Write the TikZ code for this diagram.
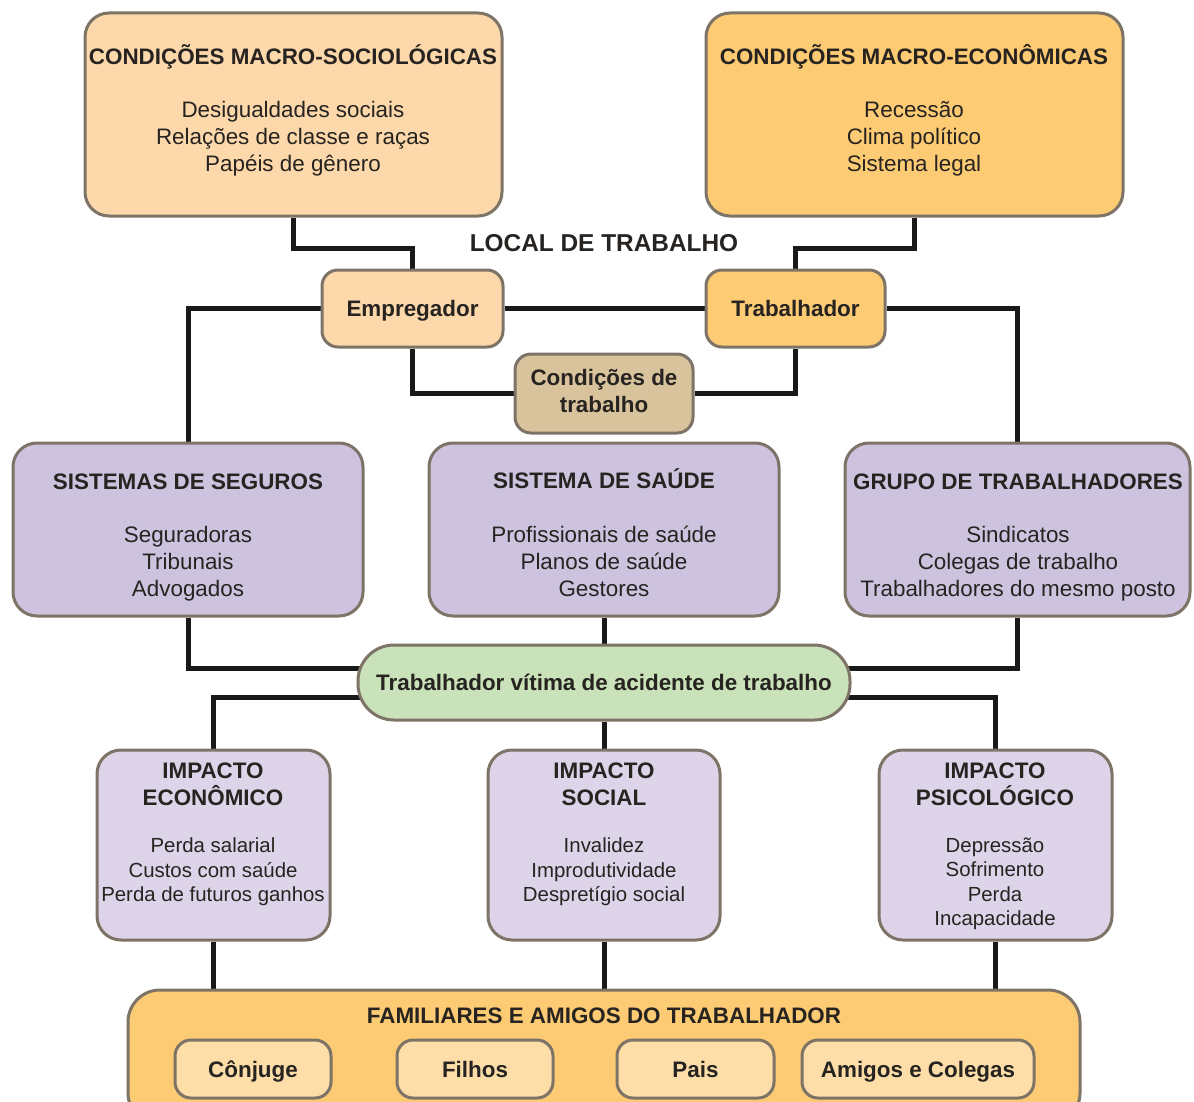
\documentclass[tikz,border=0pt]{standalone}
\usepackage{fontspec}
\setmainfont{Liberation Sans}
\usetikzlibrary{fit,calc,backgrounds}
\definecolor{peach}{HTML}{FCD8AB}
\definecolor{orng}{HTML}{FDCB74}
\definecolor{tan}{HTML}{D8C39D}
\definecolor{lav}{HTML}{CDC3DF}
\definecolor{lavl}{HTML}{DDD4E9}
\definecolor{grn}{HTML}{C9E2B9}
\definecolor{inner}{HTML}{FDDEA8}
\definecolor{bordc}{HTML}{7D7366}
\definecolor{txtc}{HTML}{262320}
\begin{document}
\begin{tikzpicture}[x=0.5pt,y=-0.5pt,
  box/.style={draw=bordc, line width=1.5pt, rounded corners=12pt, inner sep=0pt},
  sbox/.style={box, rounded corners=8pt},
  txt/.style={text=txtc, align=center, inner sep=0pt, font=\fontsize{11.2}{13.5}\selectfont},
  txtb/.style={text=txtc, align=center, inner sep=0pt, font=\fontsize{10.2}{12.25}\selectfont},
  hd/.style={text=txtc, align=center, inner sep=0pt, font=\bfseries\fontsize{11.2}{13.5}\selectfont},
  hdone/.style={hd, text height=8pt, text depth=0pt},
  conn/.style={line width=2.5pt, draw=black!90}]
\useasboundingbox (0,0) rectangle (1194,1102);

% top boxes
\node[box, fill=peach, fit={(85,13)(502,216)}] (socio) {};
\node[box, fill=orng, fit={(706,13)(1123,216)}] (eco) {};
\node[hdone] (socioT) at (293,57) {CONDIÇÕES MACRO-SOCIOLÓGICAS};
\node[txt] (socioB) at (293,139) {Desigualdades sociais\\Relações de classe e raças\\Papéis de gênero};
\node[hdone] (ecoT) at (914,57) {CONDIÇÕES MACRO-ECONÔMICAS};
\node[txt] (ecoB) at (914,139) {Recessão\\Clima político\\Sistema legal};

% workplace
\node[hdone, font=\bfseries\fontsize{12.2}{14}\selectfont, text height=8.7pt] (local) at (604,243) {LOCAL DE TRABALHO};
\node[sbox, fill=peach, fit={(322,270)(503,347)}] (emp) {};
\node[hdone] (empT) at (emp.center) {Empregador};
\node[sbox, fill=orng, fit={(706,270)(885,347)}] (trab) {};
\node[hdone] (trabT) at (trab.center) {Trabalhador};
\node[sbox, fill=tan, fit={(515,354)(693,433)}] (cond) {};
\node[hd] (condT) at ($(cond.center)+(0,-3)$) {Condições de\\trabalho};

% systems
\node[box, fill=lav, fit={(13,443)(363,616)}] (seg) {};
\node[hdone] (segT) at (188,481) {SISTEMAS DE SEGUROS};
\node[txt] (segB) at (188,564) {Seguradoras\\Tribunais\\Advogados};
\node[box, fill=lav, fit={(429,443)(779,616)}] (saude) {};
\node[hdone] (saudeT) at (604,480) {SISTEMA DE SAÚDE};
\node[txt] (saudeB) at (604,561) {Profissionais de saúde\\Planos de saúde\\Gestores};
\node[box, fill=lav, fit={(845,443)(1190,616)}] (grupo) {};
\node[hdone] (grupoT) at (1018,481) {GRUPO DE TRABALHADORES};
\node[txt] (grupoB) at (1018,564) {Sindicatos\\Colegas de trabalho\\Trabalhadores do mesmo posto};

% victim
\node[box, fill=grn, rounded corners=18pt, fit={(358,645)(850,720)}] (vit) {};
\node[hdone] (vitT) at (vit.center) {Trabalhador vítima de acidente de trabalho};

% impacts
\node[box, fill=lavl, fit={(97,750)(330,940)}] (econ) {};
\node[hd] (econT) at (213,784) {IMPACTO\\ECONÔMICO};
\node[txtb] (econB) at (213,872) {Perda salarial\\Custos com saúde\\Perda de futuros ganhos};
\node[box, fill=lavl, fit={(488,750)(720,940)}] (social) {};
\node[hd] (socialT) at (604,784) {IMPACTO\\SOCIAL};
\node[txtb] (socialB) at (604,872) {Invalidez\\Improdutividade\\Despretígio social};
\node[box, fill=lavl, fit={(879,750)(1112,940)}] (psic) {};
\node[hd] (psicT) at (995,784) {IMPACTO\\PSICOLÓGICO};
\node[txtb] (psicB) at (995,884) {Depressão\\Sofrimento\\Perda\\Incapacidade};

% family
\node[box, fill=orng, rounded corners=16pt, fit={(128,990)(1080,1125)}] (fam) {};
\node[hdone] (famT) at (604,1015) {FAMILIARES E AMIGOS DO TRABALHADOR};
\node[sbox, fill=inner, fit={(175,1040)(331,1098)}] (conj) {};
\node[hdone] (conjT) at (conj.center) {Cônjuge};
\node[sbox, fill=inner, fit={(397,1040)(553,1098)}] (filhos) {};
\node[hdone] (filhosT) at (filhos.center) {Filhos};
\node[sbox, fill=inner, fit={(617,1040)(774,1098)}] (pais) {};
\node[hdone] (paisT) at (pais.center) {Pais};
\node[sbox, fill=inner, fit={(802,1040)(1034,1098)}] (amig) {};
\node[hdone] (amigT) at (amig.center) {Amigos e Colegas};

\coordinate (j248) at (0,248);
\coordinate (j668) at (0,668);
\coordinate (j697) at (0,697);

\begin{scope}[on background layer]
\draw[conn] (socio.south) |- (j248 -| emp.north) -- (emp.north);
\draw[conn] (eco.south) |- (j248 -| trab.north) -- (trab.north);
\draw[conn] (emp.east) -- (trab.west);
\draw[conn] (emp.west) -| (seg.north);
\draw[conn] (trab.east) -| (grupo.north);
\draw[conn] (emp.south) |- (cond.west);
\draw[conn] (trab.south) |- (cond.east);
\draw[conn] (seg.south) |- (j668 -| vit.center);
\draw[conn] (grupo.south) |- (j668 -| vit.center);
\draw[conn] (saude.south) -- (vit.north);
\draw[conn] (econ.north) |- (j697 -| vit.center);
\draw[conn] (psic.north) |- (j697 -| vit.center);
\draw[conn] (vit.south) -- (social.north);
\draw[conn] (econ.south) -- (econ.south |- fam.north);
\draw[conn] (social.south) -- (social.south |- fam.north);
\draw[conn] (psic.south) -- (psic.south |- fam.north);
\end{scope}
\end{tikzpicture}
\end{document}
